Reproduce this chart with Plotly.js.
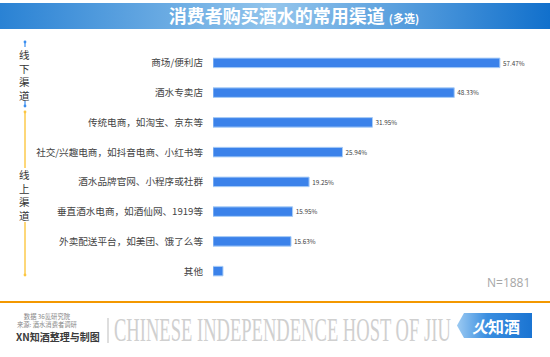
<!DOCTYPE html>
<html><head><meta charset="utf-8">
<script src="https://cdn.plot.ly/plotly-3.0.1.min.js"></script>
<style>html,body{margin:0;padding:0;background:#fff}#chart{width:550px;height:357px}
#chart text[style*="Liberation Serif"]{transform-box:fill-box;transform-origin:0% 50%;transform:scaleX(0.5625);}
</style>
</head><body><div id="chart"></div>
<script>
const categories = ['商场/便利店','酒水专卖店','传统电商，如淘宝、京东等','社交/兴趣电商，如抖音电商、小红书等','酒水品牌官网、小程序或社群','垂直酒水电商，如酒仙网、1919等','外卖配送平台，如美团、饿了么等','其他'];
const values = [57.47,48.33,31.95,25.94,19.25,15.95,15.63,2.0];
const showValue = [true,true,true,true,true,true,true,false];
const sampleNote = 'N=1881';
const titleMain = '消费者购买酒水的常用渠道';
const titleSub = '(多选)';
const offlineLabel = '线下渠道';
const onlineLabel = '线上渠道';
const sourceLines = ['数据 36氪研究院','来源: 酒水消费者调研'];
const makerLine = 'XN知酒整理与制图';
const slogan = 'CHINESE INDEPENDENCE HOST OF JIU';
const logoText = '知酒';

const ML=213, MR=30, MT=48, MB=71, W=550-ML-MR, H=357-MT-MB;
const px2x = p => (p-ML)/W;
const py2y = p => (MT+H-p)/H;
const CJK = '"Noto Sans CJK SC", "Noto Sans", sans-serif';

const labels = values.map((v,i)=> showValue[i] ? v.toFixed(2)+'%' : '');

const grad = 'data:image/svg+xml;utf8,' + encodeURIComponent(
 '<svg xmlns="http://www.w3.org/2000/svg" width="550" height="26" preserveAspectRatio="none"><defs><linearGradient id="g" x1="0" x2="1" y1="0" y2="0"><stop offset="0" stop-color="#2a82d4"/><stop offset="0.5" stop-color="#93c5ec"/><stop offset="1" stop-color="#1170cc"/></linearGradient></defs><rect width="550" height="26" fill="url(#g)"/></svg>');
const logoGrad = 'data:image/svg+xml;utf8,' + encodeURIComponent(
 '<svg xmlns="http://www.w3.org/2000/svg" width="75" height="25" preserveAspectRatio="none"><defs><linearGradient id="g" x1="0" x2="1" y1="0" y2="0"><stop offset="0" stop-color="#9ccaf2"/><stop offset="0.4" stop-color="#3a8ee0"/><stop offset="1" stop-color="#1a74d2"/></linearGradient></defs><path d="M7 0 L75 0 L75 25 L7 25 L0 12.5 Z" fill="url(#g)"/></svg>');

function vline(x,y0,y1,color,w){return {type:'line',xref:'paper',yref:'paper',x0:px2x(x),x1:px2x(x),y0:py2y(y0),y1:py2y(y1),line:{color:color,width:w}};}
function dot(x,y,r,color){return {type:'circle',xref:'paper',yref:'paper',x0:px2x(x-r),x1:px2x(x+r),y0:py2y(y-r),y1:py2y(y+r),fillcolor:color,line:{width:0}};}

const blue='#3a8ef0', orange='#fcc640';
const shapes = [
 vline(25,41,47,blue,1.2), dot(25,42,1.4,blue), vline(25,101,107,blue,1.2), dot(25,106,1.4,blue),
 vline(25,112,168,orange,1.4), dot(25,112,1.4,orange), vline(25,222,275,orange,1.4), dot(25,275,1.4,orange),
 {type:'line',xref:'paper',yref:'paper',x0:px2x(0),x1:px2x(550),y0:py2y(302),y1:py2y(302),line:{color:'#f39800',width:2.2}},
 vline(108,318,343,'#bdbdbd',1)
];

function ann(text,x,y,size,color,xanchor,extra){return Object.assign({text:text,xref:'paper',yref:'paper',x:px2x(x),y:py2y(y),xanchor:xanchor||'center',yanchor:'middle',showarrow:false,font:{family:CJK,size:size,color:color}},extra||{});}

const annotations = [
 ann(offlineLabel.split('').join('<br>'),25,75,10.5,'#333'),
 ann(onlineLabel.split('').join('<br>'),25,195,10.5,'#333'),
 ann(sampleNote,532,282,12,'#a6a6a6','right',{font:{family:'"Open Sans", sans-serif',size:12,color:'#a6a6a6'}}),
 ann(sourceLines.join('<br>'),15,320.5,6.3,'#888','left'),
 ann('<b>'+makerLine+'</b>',14,336.5,10,'#3a3a3a','left'),
 ann(slogan,112,330,33,'#d0d0d0','left',{width:620,align:'left',font:{family:'Liberation Serif',size:33,color:'#d0d0d0'}}),
 ann('<b><i>火</i>'+logoText+'</b>',496,325.5,16,'#ffffff','center')
];

const data = [{
 type:'bar', orientation:'h', y:categories, x:values, text:labels,
 textposition:'outside', cliponaxis:false,
 textfont:{family:CJK,size:10,color:'#404040'},
 marker:{color:'#3b82ea',line:{color:'#a9cdf7',width:1}},
 hoverinfo:'none'
}];

const layout = {
 width:550,height:357,margin:{l:ML,r:MR,t:MT,b:MB,pad:0},
 paper_bgcolor:'#fff',plot_bgcolor:'#fff',showlegend:false,bargap:0.68,
 title:{text:'<b>'+titleMain+'</b> <span style="font-size:11px"><b>'+titleSub+'</b></span>',xref:'container',yref:'container',x:294/550,y:1-16.5/357,xanchor:'center',yanchor:'middle',font:{family:CJK,size:18,color:'#fff'}},
 xaxis:{range:[0,61.5],visible:false,fixedrange:true},
 yaxis:{autorange:'reversed',showgrid:false,zeroline:false,showline:false,ticks:'',ticklabelstandoff:9,tickfont:{family:CJK,size:9.6,color:'#444'},fixedrange:true},
 shapes:shapes, annotations:annotations,
 images:[
  {source:grad,xref:'paper',yref:'paper',x:px2x(0),y:py2y(3),sizex:550/W,sizey:26/H,sizing:'stretch',xanchor:'left',yanchor:'top',layer:'below'},
  {source:logoGrad,xref:'paper',yref:'paper',x:px2x(457),y:py2y(313),sizex:75/W,sizey:25/H,sizing:'stretch',xanchor:'left',yanchor:'top',layer:'above'}
 ]
};

Plotly.newPlot('chart',data,layout,{displayModeBar:false,staticPlot:true});
</script></body></html>
